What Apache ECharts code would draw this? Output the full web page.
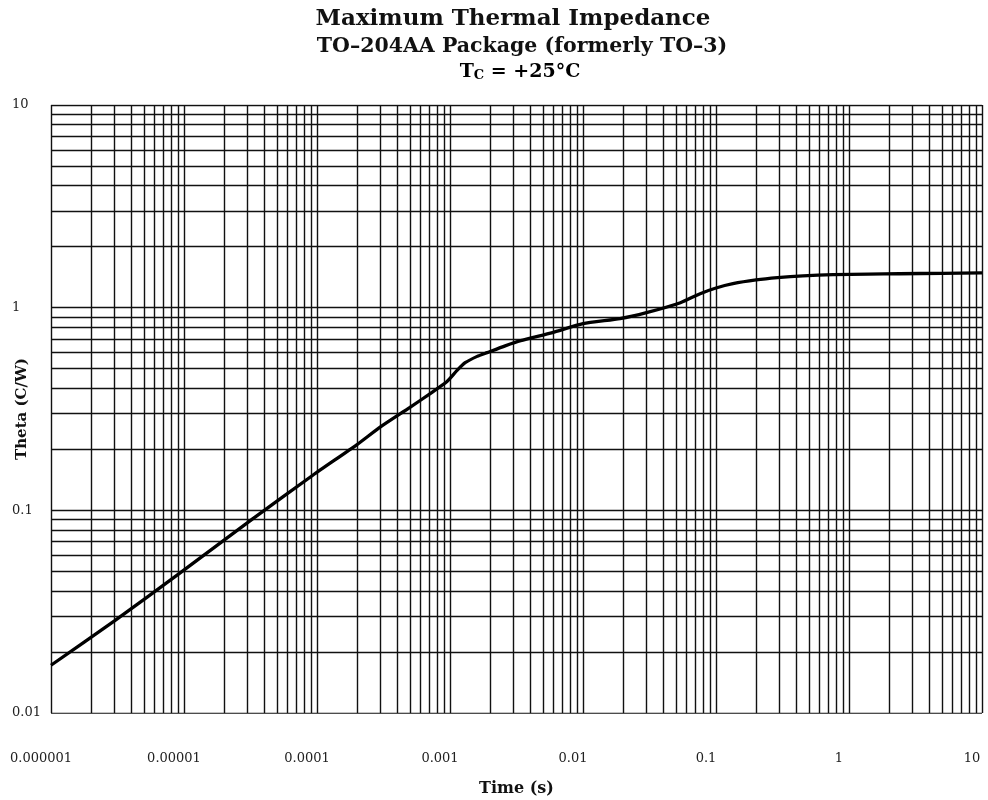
<!DOCTYPE html>
<html><head><meta charset="utf-8">
<script src="https://cdn.jsdelivr.net/npm/echarts@6/dist/echarts.min.js"></script>
<style>html,body{margin:0;padding:0;background:#fff}#c{width:988px;height:800px}</style>
</head><body><div id="c"></div>
<script>
// Time (s) and thermal impedance Theta (C/W)
const timeS = [1e-6, 3e-6, 9.3e-6, 3.3e-5, 9.3e-5, 2.0e-4, 3.0e-4, 5e-4, 7.1e-4, 9.5e-4, 1.13e-3, 1.3e-3, 1.6e-3, 1.9e-3, 2.6e-3, 3.4e-3, 5.9e-3, 0.01, 0.019, 0.03, 0.054, 0.076, 0.1, 0.134, 0.2, 0.29, 0.45, 0.76, 1.4, 2.4, 5, 10];
const theta = [0.0172, 0.0285, 0.049, 0.091, 0.149, 0.211, 0.258, 0.322, 0.377, 0.432, 0.49, 0.535, 0.575, 0.60, 0.648, 0.687, 0.753, 0.834, 0.883, 0.945, 1.058, 1.172, 1.25, 1.313, 1.37, 1.406, 1.435, 1.455, 1.464, 1.47, 1.478, 1.486];

const xTickLabels = ['0.000001', '0.00001', '0.0001', '0.001', '0.01', '0.1', '1', '10'];
const yTickLabels = ['0.01', '0.1', '1', '10'];
const xDecades = [1e-6, 1e-5, 1e-4, 1e-3, 1e-2, 1e-1, 1];
const yDecades = [0.01, 0.1, 1];
const gridMultipliers = [1, 2, 3, 4, 5, 6, 7, 8, 9];
const xMin = 1e-6, xMax = 10, yMin = 0.01, yMax = 10;

const titleText = 'Maximum Thermal Impedance';
const subText = 'TO\u2013204AA Package (formerly TO\u20133)';

const xGrid = [];
xDecades.forEach(d => gridMultipliers.forEach(m => xGrid.push(d * m)));
xGrid.push(xMax);
const yGrid = [];
yDecades.forEach(d => gridMultipliers.forEach(m => yGrid.push(d * m)));
yGrid.push(yMax);

const gridLines = xGrid.map(v => ({ coords: [[v, yMin], [v, yMax]] }))
  .concat(yGrid.map(v => ({ coords: [[xMin, v], [xMax, v]] })));

const serif = 'DejaVu Serif';

const chart = echarts.init(document.getElementById('c'));
chart.setOption({
  animation: false,
  backgroundColor: '#fff',
  grid: { left: 51, right: 6, top: 105, bottom: 87, containLabel: false, outerBoundsMode: 'none' },
  xAxis: {
    type: 'log', logBase: 10, min: xMin, max: xMax,
    name: 'Time (s)', nameLocation: 'middle', nameGap: 68, nameMoveOverlap: false,
    nameTextStyle: { fontFamily: serif, fontWeight: 'bold', fontSize: 16, color: '#111' },
    axisLine: { show: false }, axisTick: { show: false }, splitLine: { show: false },
    axisLabel: {
      margin: 39, fontFamily: serif, fontSize: 13, color: '#222', padding: [0, 20, 0, 0],
      formatter: v => xTickLabels[Math.round(Math.log10(v)) + 6]
    }
  },
  yAxis: {
    type: 'log', logBase: 10, min: yMin, max: yMax,
    name: 'Theta (C/W)', nameLocation: 'middle', nameGap: 21, nameMoveOverlap: false,
    nameTextStyle: { fontFamily: serif, fontWeight: 'bold', fontSize: 15, color: '#111' },
    axisLine: { show: false }, axisTick: { show: false }, splitLine: { show: false },
    axisLabel: {
      margin: 39, align: 'left', fontFamily: serif, fontSize: 13, color: '#222',
      formatter: v => yTickLabels[Math.round(Math.log10(v)) + 2]
    }
  },
  graphic: [
    { type: 'text', x: 513, y: 19, style: { text: titleText, textAlign: 'center', textVerticalAlign: 'middle', font: 'bold 23px "DejaVu Serif"', fill: '#111' } },
    { type: 'text', x: 522, y: 47, style: { text: subText, textAlign: 'center', textVerticalAlign: 'middle', font: 'bold 20.5px "DejaVu Serif"', fill: '#111' } },
    { type: 'text', x: 520, y: 72, style: {
      text: '{a|T}{b|C}{a| = +25°C}', textAlign: 'center', textVerticalAlign: 'middle',
      rich: {
        a: { fontFamily: serif, fontWeight: 'bold', fontSize: 19, color: '#111', lineHeight: 22 },
        b: { fontFamily: serif, fontWeight: 'bold', fontSize: 13, color: '#111', lineHeight: 22, padding: [8, 0, 0, 0] }
      }
    } }
  ],
  series: [
    {
      type: 'lines', coordinateSystem: 'cartesian2d', z: 1, silent: true,
      polyline: false, symbol: 'none',
      lineStyle: { color: '#111', width: 1.4, type: 'solid', opacity: 1 },
      data: gridLines
    },
    {
      type: 'line', z: 5, silent: true, showSymbol: false, symbol: 'none',
      smooth: 0.2,
      lineStyle: { color: '#000', width: 3.3 },
      data: timeS.map((t, i) => [t, theta[i]])
    }
  ]
});
</script>
</body></html>
